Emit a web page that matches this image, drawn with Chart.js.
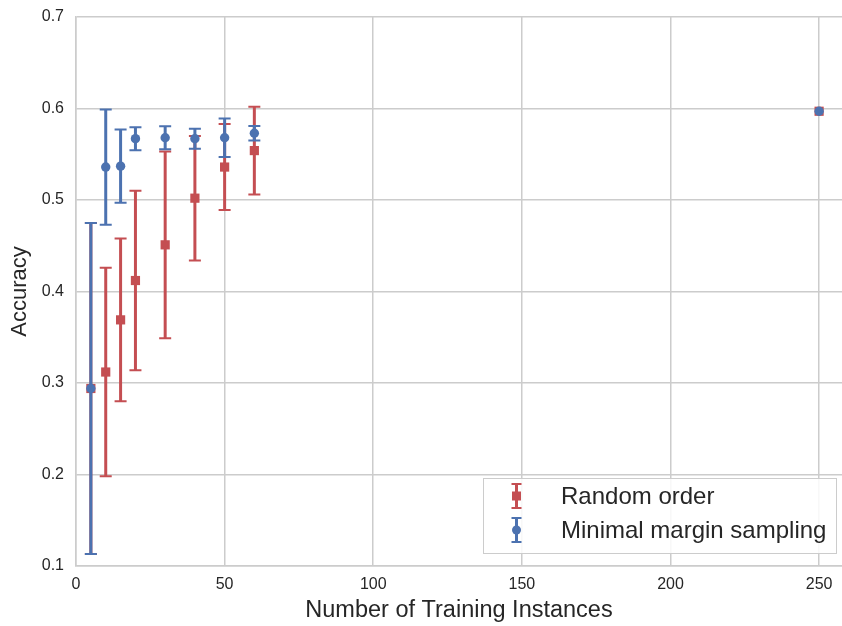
<!DOCTYPE html>
<html>
<head>
<meta charset="utf-8">
<script src="https://cdn.jsdelivr.net/npm/chart.js@4/dist/chart.umd.min.js"></script>
<style>
html,body{margin:0;padding:0;background:#fff;}
</style>
</head>
<body>
<canvas id="accChart" width="842" height="626"></canvas>
<script>
// data
const instances  = [5, 10, 15, 20, 30, 40, 50, 60, 250];
const randomAcc  = [0.294, 0.312, 0.369, 0.412, 0.451, 0.502, 0.536, 0.554, 0.597];
const randomErr  = [0.181, 0.114, 0.089, 0.098, 0.102, 0.068, 0.047, 0.048, 0];
const marginAcc  = [0.294, 0.536, 0.537, 0.567, 0.568, 0.567, 0.568, 0.573, 0.597];
const marginErr  = [0.181, 0.063, 0.040, 0.0125, 0.0125, 0.011, 0.021, 0.008, 0];
const seriesNames = ["Random order", "Minimal margin sampling"];
const xTicks = [0, 50, 100, 150, 200, 250];
const yTicks = [0.1, 0.2, 0.3, 0.4, 0.5, 0.6, 0.7];

const RED = "#C44E52";
const BLUE = "#4C72B0";
const TEXT = "#262626";
const FONT = "'Liberation Sans', Arial, sans-serif";

function toPoints(ys) {
    return instances.map((x, i) => ({x: x, y: ys[i]}));
}

// plot runs to the right edge of the canvas, like the original figure
const stretchRight = {
    id: "stretchRight",
    afterLayout(chart) {
        const right = chart.width;
        const xs = chart.scales.x;
        chart.chartArea.right = right;
        chart.chartArea.width = right - chart.chartArea.left;
        xs.right = right;
        xs.width = right - xs.left;
        xs.configure();
    }
};

// ==========================
// error bars, drawn under each dataset's markers
// ==========================
const errorBars = {
    id: "errorBars",
    beforeDatasetDraw(chart, args) {
        const ds = chart.data.datasets[args.index];
        if (!ds.errors) return;
        const xs = chart.scales.x, ys = chart.scales.y, ctx = chart.ctx;
        ctx.save();
        ctx.strokeStyle = ds.borderColor;
        ds.data.forEach((p, i) => {
            const e = ds.errors[i];
            if (!e) return;
            const px = xs.getPixelForValue(p.x);
            const top = ys.getPixelForValue(p.y + e);
            const bot = ys.getPixelForValue(p.y - e);
            ctx.lineWidth = 3;
            ctx.beginPath();
            ctx.moveTo(px, top);
            ctx.lineTo(px, bot);
            ctx.stroke();
            ctx.lineWidth = 2;
            ctx.beginPath();
            ctx.moveTo(px - 6, top);
            ctx.lineTo(px + 6, top);
            ctx.moveTo(px - 6, bot);
            ctx.lineTo(px + 6, bot);
            ctx.stroke();
        });
        ctx.restore();
    }
};

// ==========================
// legend box in lower right
// ==========================
const boxLegend = {
    id: "boxLegend",
    afterDraw(chart) {
        const ctx = chart.ctx;
        const x0 = 483, y0 = 478, w = 353, h = 75;
        ctx.save();
        ctx.fillStyle = "rgba(255,255,255,0.85)";
        ctx.fillRect(x0, y0, w, h);
        ctx.strokeStyle = "#cccccc";
        ctx.lineWidth = 1;
        ctx.strokeRect(x0 + 0.5, y0 + 0.5, w, h);
        const rows = [
            {label: seriesNames[0], color: RED, style: "rect", y: 496},
            {label: seriesNames[1], color: BLUE, style: "circle", y: 530}
        ];
        rows.forEach(r => {
            const mx = 516.5;
            ctx.strokeStyle = r.color;
            ctx.lineWidth = 3;
            ctx.beginPath();
            ctx.moveTo(mx, r.y - 12);
            ctx.lineTo(mx, r.y + 12);
            ctx.stroke();
            ctx.lineWidth = 2;
            ctx.beginPath();
            ctx.moveTo(mx - 5, r.y - 12);
            ctx.lineTo(mx + 5, r.y - 12);
            ctx.moveTo(mx - 5, r.y + 12);
            ctx.lineTo(mx + 5, r.y + 12);
            ctx.stroke();
            ctx.fillStyle = r.color;
            if (r.style === "rect") {
                ctx.fillRect(mx - 4.5, r.y - 4.5, 9, 9);
            } else {
                ctx.beginPath();
                ctx.arc(mx, r.y, 4.5, 0, Math.PI * 2);
                ctx.fill();
            }
            ctx.fillStyle = TEXT;
            ctx.font = "24px " + FONT;
            ctx.textBaseline = "middle";
            ctx.textAlign = "left";
            ctx.fillText(r.label, 561, r.y + 1);
        });
        ctx.restore();
    }
};

new Chart(document.getElementById("accChart"), {

    type: "scatter",

    data: {
        datasets: [
            {
                label: seriesNames[0],
                data: toPoints(randomAcc),
                errors: randomErr,
                borderColor: RED,
                backgroundColor: RED,
                pointStyle: "rect",
                pointRadius: 6.5,
                pointBorderWidth: 0,
                order: 2
            },
            {
                label: seriesNames[1],
                data: toPoints(marginAcc),
                errors: marginErr,
                borderColor: BLUE,
                backgroundColor: BLUE,
                pointStyle: "circle",
                pointRadius: 4.7,
                pointBorderWidth: 0,
                order: 1
            }
        ]
    },

    options: {
        responsive: false,
        animation: false,
        devicePixelRatio: 1,
        layout: {padding: {top: 17, right: 0, left: 0, bottom: 0}},
        plugins: {
            legend: {display: false},
            tooltip: {enabled: false}
        },
        scales: {
            x: {
                type: "linear",
                min: 0,
                max: 257.7,
                afterFit(s) { s.height = 60; s.paddingLeft = 0; s.paddingRight = 0; },
                afterBuildTicks(s) { s.ticks = xTicks.map(v => ({value: v})); },
                ticks: {
                    includeBounds: false,
                    padding: 9,
                    color: TEXT,
                    font: {family: FONT, size: 16},
                    maxRotation: 0
                },
                grid: {color: "#cccccc", lineWidth: 1.5, drawTicks: false},
                border: {color: "#cccccc", width: 1.5},
                title: {
                    display: true,
                    text: "Number of Training Instances",
                    color: TEXT,
                    font: {family: FONT, size: 23.5},
                    padding: {top: 0, bottom: 1}
                }
            },
            y: {
                type: "linear",
                min: 0.1,
                max: 0.7,
                afterFit(s) { s.width = 76; s.paddingTop = 0; s.paddingBottom = 0; },
                afterBuildTicks(s) { s.ticks = yTicks.map(v => ({value: v})); },
                ticks: {
                    padding: 12,
                    color: TEXT,
                    font: {family: FONT, size: 16},
                    callback: v => v.toFixed(1)
                },
                grid: {color: "#cccccc", lineWidth: 1.5, drawTicks: false},
                border: {color: "#cccccc", width: 1.5},
                title: {
                    display: true,
                    text: "Accuracy",
                    color: TEXT,
                    font: {family: FONT, size: 22},
                    padding: {top: 7, bottom: 0}
                }
            }
        }
    },

    plugins: [stretchRight, errorBars, boxLegend]
});
</script>
</body>
</html>
